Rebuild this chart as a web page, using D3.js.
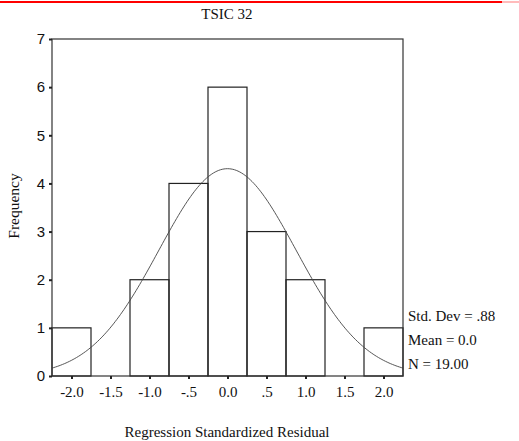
<!DOCTYPE html>
<html>
<head>
<meta charset="utf-8">
<script src="https://cdn.jsdelivr.net/npm/d3@7"></script>
<style>
  body { margin: 0; background: #fff; }
  svg text { fill: #111; }
  .serif { font-family: "Liberation Serif", "Times New Roman", serif; }
  .sans { font-family: "Liberation Sans", Arial, sans-serif; }
</style>
</head>
<body>
<div id="chart"></div>
<script>
// histogram bins (bin centres) and counts
const binCenters = [-2.0, -1.5, -1.0, -0.5, 0.0, 0.5, 1.0, 1.5, 2.0];
const binCounts = [1, 0, 2, 4, 6, 3, 2, 0, 1];
const binWidth = 0.5;

// axis ticks
const xTicks = [-2.0, -1.5, -1.0, -0.5, 0.0, 0.5, 1.0, 1.5, 2.0];
const xTickLabels = ["-2.0", "-1.5", "-1.0", "-.5", "0.0", ".5", "1.0", "1.5", "2.0"];
const yTicks = [0, 1, 2, 3, 4, 5, 6, 7];

// summary stats shown at the right
const statsLabels = ["Std. Dev = .88", "Mean = 0.0", "N = 19.00"];
const stdDev = 0.88, mean = 0.0, nCases = 19;

function histogram() {
    const W = 519, H = 441;
    const margin = {top: 39, right: 116, bottom: 65, left: 52};
    const width = W - margin.left - margin.right;
    const height = H - margin.top - margin.bottom;

    const root = d3.select("#chart").append("svg")
        .attr("width", W)
        .attr("height", H);

    // red rule across the page top
    root.append("rect").attr("x", 0).attr("y", 1).attr("width", 502).attr("height", 2).attr("fill", "#f00");
    root.append("rect").attr("x", 502).attr("y", 1).attr("width", 17).attr("height", 2).attr("fill", "#fbb");

    const svg = root.append("g")
        .attr("transform", `translate(${margin.left}, ${margin.top})`);

    const xScale = d3.scaleLinear()
        .domain([-2.25, 2.25])
        .range([0, width]);
    const yScale = d3.scaleLinear()
        .domain([0, 7])
        .range([height, 0]);

    // bars: open rectangles
    svg.selectAll(".bar")
        .data(binCenters.map((c, i) => ({c: c, n: binCounts[i]})).filter(d => d.n > 0))
        .join("rect")
        .attr("class", "bar")
        .attr("x", d => xScale(d.c - binWidth / 2))
        .attr("y", d => yScale(d.n))
        .attr("width", d => xScale(d.c + binWidth / 2) - xScale(d.c - binWidth / 2))
        .attr("height", d => yScale(0) - yScale(d.n))
        .attr("fill", "none")
        .attr("stroke", "#222")
        .attr("stroke-width", 1.2);

    // fitted normal curve
    const curvePts = d3.range(0, 201).map(i => {
        const x = -2.25 + 4.5 * i / 200;
        const y = nCases * binWidth / (stdDev * Math.sqrt(2 * Math.PI)) *
            Math.exp(-0.5 * Math.pow((x - mean) / stdDev, 2));
        return [x, y];
    });
    svg.append("path")
        .datum(curvePts)
        .attr("d", d3.line().x(d => xScale(d[0])).y(d => yScale(d[1])).curve(d3.curveBasis))
        .attr("fill", "none")
        .attr("stroke", "#444")
        .attr("stroke-width", 0.9);

    // frame
    svg.append("rect")
        .attr("x", 0).attr("y", 0)
        .attr("width", width).attr("height", height)
        .attr("fill", "none")
        .attr("stroke", "#333")
        .attr("stroke-width", 1.2);

    // y axis
    const yAxis = svg.append("g")
        .call(d3.axisLeft(yScale).tickValues(yTicks).tickFormat(d3.format("d")).tickSize(3).tickPadding(4).tickSizeOuter(0));
    yAxis.select(".domain").remove();
    yAxis.selectAll("line").attr("stroke", "#222").attr("stroke-width", 2);
    yAxis.selectAll("text").attr("class", "sans").style("font-size", "15px").attr("fill", "#111");

    // x axis
    const xAxis = svg.append("g")
        .attr("transform", `translate(0, ${height})`)
        .call(d3.axisBottom(xScale).tickValues(xTicks).tickFormat((d, i) => xTickLabels[i]).tickSize(3).tickPadding(7).tickSizeOuter(0));
    xAxis.select(".domain").remove();
    xAxis.selectAll("line").attr("stroke", "#222").attr("stroke-width", 2);
    xAxis.selectAll("text").attr("class", "serif").style("font-size", "15px").attr("fill", "#111");

    // title
    root.append("text")
        .attr("class", "serif")
        .attr("x", 227).attr("y", 19)
        .style("text-anchor", "middle")
        .style("font-size", "15px")
        .text("TSIC 32");

    // axis labels
    root.append("text")
        .attr("class", "serif")
        .attr("transform", "translate(19, 206) rotate(-90)")
        .style("text-anchor", "middle")
        .style("font-size", "15.5px")
        .text("Frequency");

    root.append("text")
        .attr("class", "serif")
        .attr("x", 227).attr("y", 437)
        .style("text-anchor", "middle")
        .style("font-size", "15px")
        .text("Regression Standardized Residual");

    // stats block
    root.selectAll(".stat")
        .data(statsLabels)
        .join("text")
        .attr("class", "serif stat")
        .attr("x", 408)
        .attr("y", (d, i) => [321, 345, 369][i])
        .style("font-size", "15px")
        .text(d => d);
}

histogram();
</script>
</body>
</html>
